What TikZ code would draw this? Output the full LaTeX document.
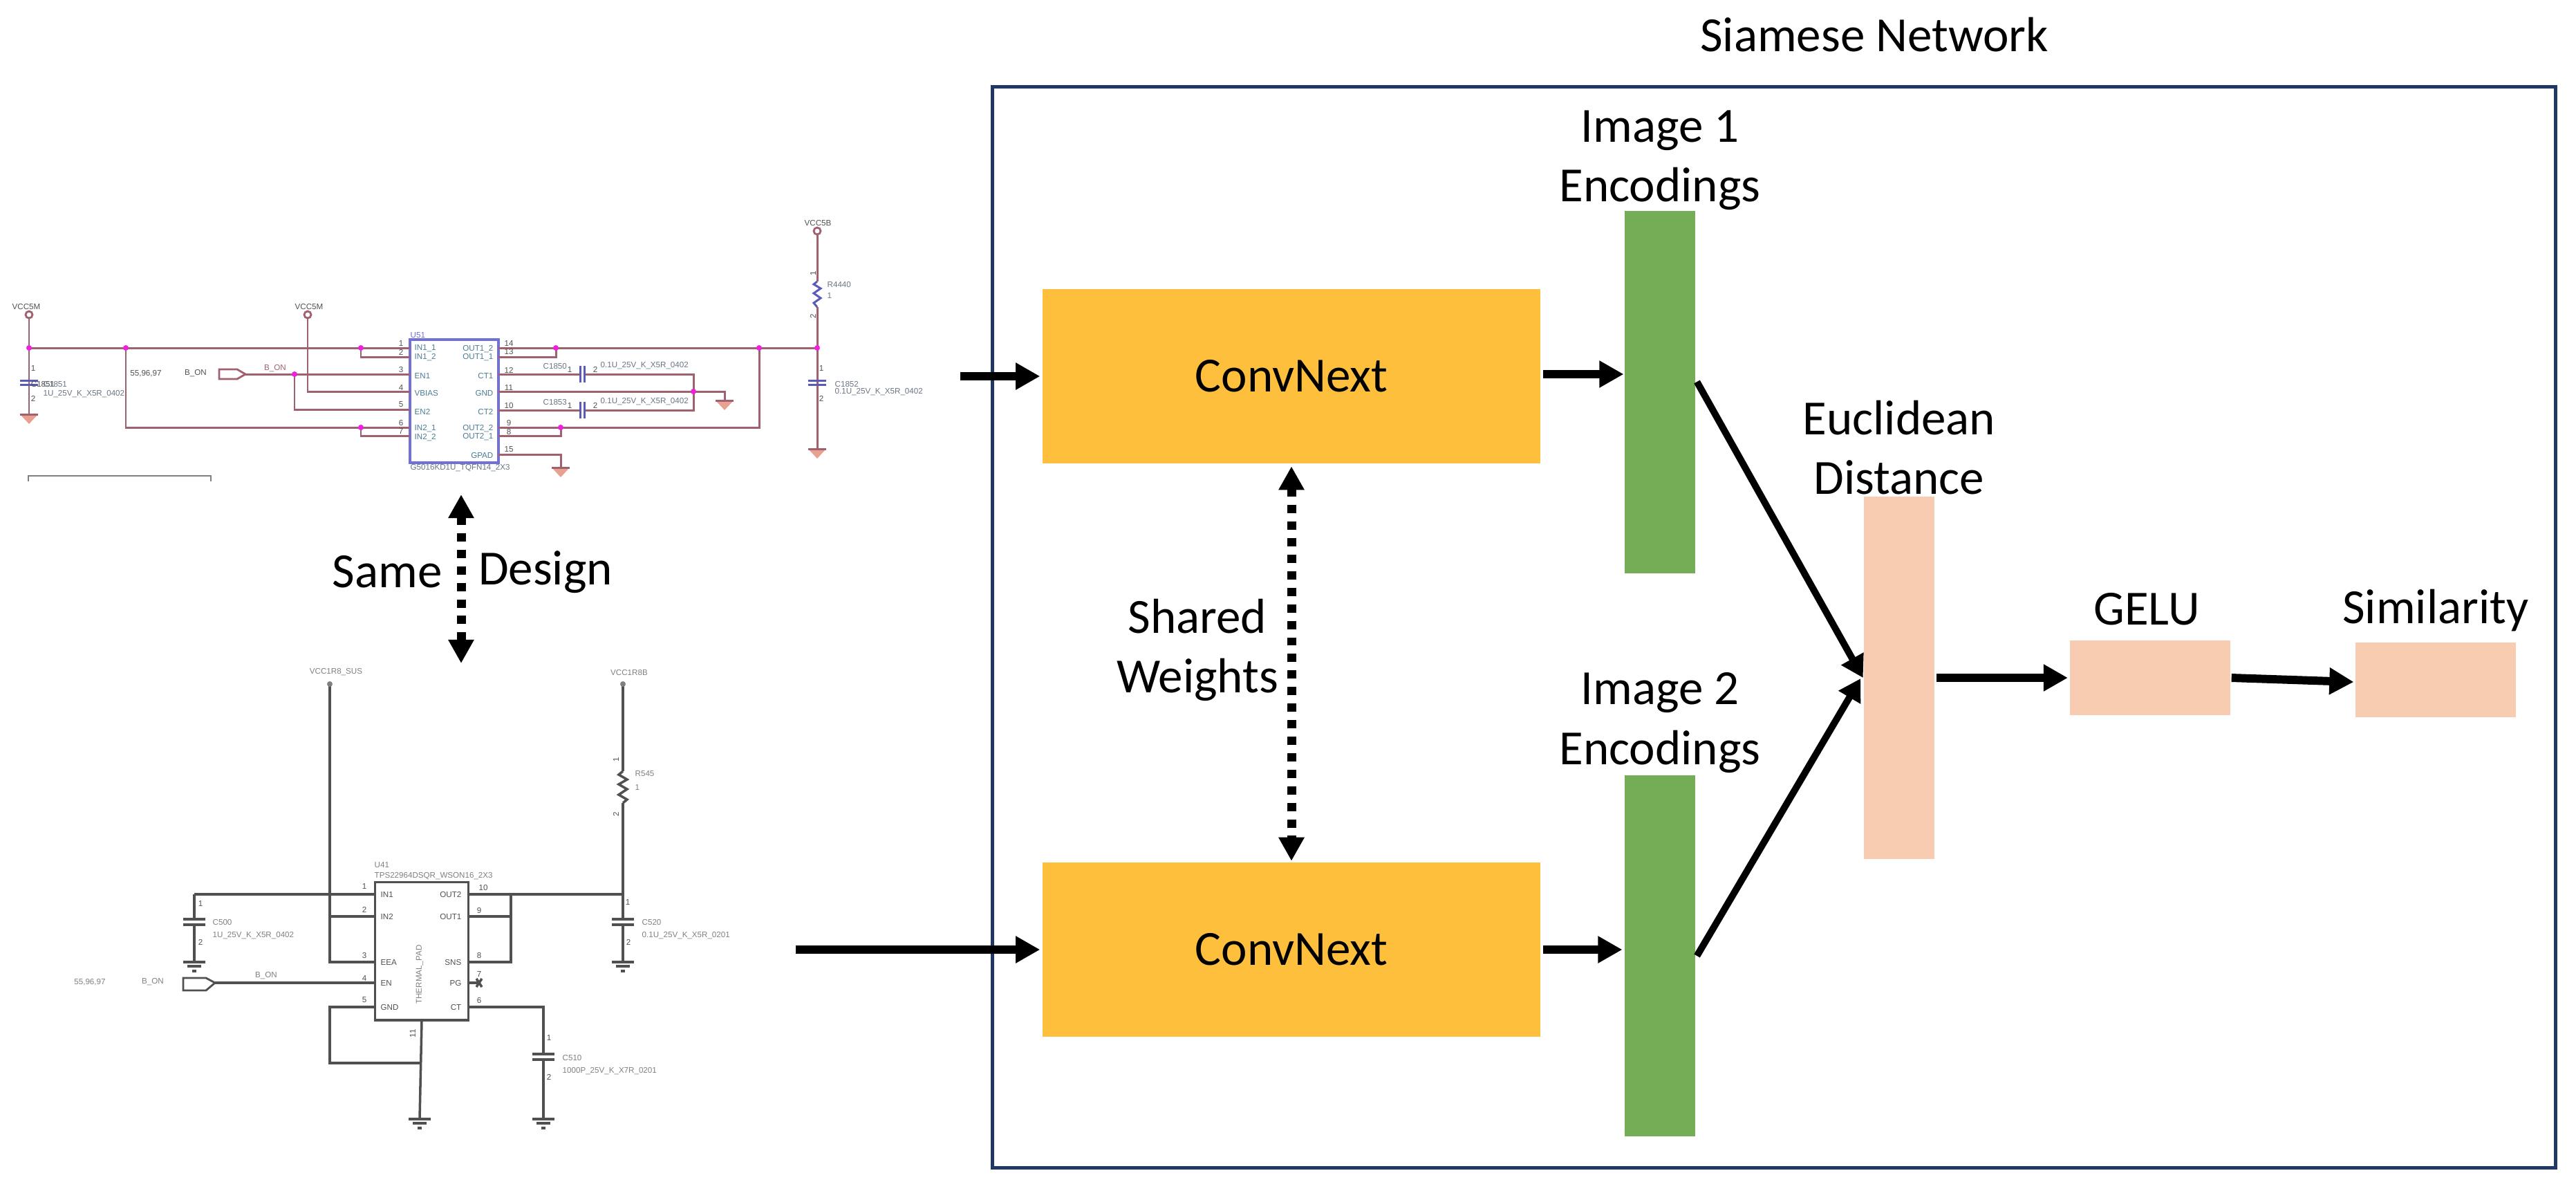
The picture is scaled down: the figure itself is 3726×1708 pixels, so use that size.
\documentclass[tikz,border=0pt]{standalone}
\usepackage{fontspec}
\setmainfont{Carlito}
\newfontfamily\schfont{Liberation Sans}
\usetikzlibrary{arrows.meta}
\definecolor{framenavy}{HTML}{1F3864}
\definecolor{convyellow}{HTML}{FDBF3C}
\definecolor{encgreen}{HTML}{74AD55}
\definecolor{distpeach}{HTML}{F7CCB1}
\definecolor{wirered}{HTML}{A0606E}
\definecolor{wiregray}{HTML}{505050}
\definecolor{dotpink}{HTML}{F020E0}
\definecolor{chipblue}{HTML}{7070D8}
\definecolor{capblue}{HTML}{5A5AB8}
\definecolor{gndsalmon}{HTML}{E8A090}
\definecolor{pinteal}{HTML}{4A7C94}
\definecolor{valgray}{HTML}{6A7484}
\tikzset{
  blocktext/.style={font=\fontsize{20.2}{24.5}\selectfont,align=center,inner sep=0pt},
  framebox/.style={draw=framenavy,line width=1.3pt,minimum width=22.6cm,minimum height=15.62cm,inner sep=0pt,outer sep=0pt},
  convbox/.style={blocktext,fill=convyellow,minimum width=7.2cm,minimum height=2.52cm,outer sep=0pt},
  encbox/.style={fill=encgreen,minimum width=1.01cm,inner sep=0pt,outer sep=0pt},
  peachbox/.style={fill=distpeach,inner sep=0pt,outer sep=0pt},
  flowarrow/.style={-{Triangle[length=10pt,width=10.5pt]},line width=3.4pt},
  slantarrow/.style={-{Triangle[length=9pt,width=10pt]},line width=2.8pt},
  dotarrow/.style={{Triangle[length=9.7pt,width=10pt]}-{Triangle[length=9.7pt,width=10pt]},line width=3.7pt,dash pattern=on 3.4pt off 3.4pt},
  schlabel/.style={font=\schfont\fontsize{3.3}{4}\selectfont,inner sep=0pt},
  redwire/.style={draw=wirered,line width=.85pt},
  graywire/.style={draw=wiregray,line width=1pt},
  gndred/.pic={\fill[gndsalmon] (-13,0) -- (13,0) -- (0,14) -- cycle; \draw[redwire] (-13,0) -- (13,0);},
  gndgray/.pic={\draw[graywire] (-16,0) -- (16,0) (-10,6) -- (10,6) (-3,13) -- (3,13);},
  capred/.pic={\draw[draw=capblue,line width=.85pt] (-13,-3) -- (13,-3) (-13,3) -- (13,3);},
  capside/.pic={\draw[draw=capblue,line width=.85pt] (-3,-12) -- (-3,12) (3,-12) -- (3,12);},
  capgray/.pic={\draw[graywire] (-16,-4) -- (16,-4) (-16,4) -- (16,4);}
}
\begin{document}
\begin{tikzpicture}[x=0.01cm,y=-0.01cm]
\useasboundingbox (0,0) rectangle (3726,1708);
% siamese network
\node[framebox] (siamese) at (2566,907) {};
\node[blocktext] (siamesetitle) at (2711,50) {Siamese Network};
\node[convbox] (conv1) at (1868,544) {ConvNext};
\node[convbox] (conv2) at (1868,1373) {ConvNext};
\node[encbox,minimum height=5.24cm] (enc1) at (2401,567) {};
\node[encbox,minimum height=5.22cm] (enc2) at (2401,1382) {};
\node[peachbox,minimum width=1.01cm,minimum height=5.24cm] (eucl) at (2747,980) {};
\node[peachbox,minimum width=2.31cm,minimum height=1.08cm] (gelu) at (3110,980) {};
\node[peachbox,minimum width=2.31cm,minimum height=1.08cm] (simil) at (3523,983) {};
\node[blocktext] (enc1txt) at (2401,232) {Image 1\\Encodings};
\node[blocktext] (enc2txt) at (2401,1045) {Image 2\\Encodings};
\node[blocktext] (eucltxt) at (2747,647) {Euclidean\\Distance};
\node[blocktext] (gelutxt) at (3105,881) {GELU};
\node[blocktext] (similtxt) at (3523,883) {Similarity};
\node[blocktext] (sharedtxt) at (1732,940) {Shared\\Weights};
\node[blocktext] (sametxt) at (560,827) {Same};
\node[blocktext] (designtxt) at (789,827) {Design};
\coordinate (input1) at (1389,544);
\coordinate (input2) at (1151,1373);
\coordinate (pairtop) at (667,715);
\coordinate (pairbot) at (667,959);
\draw[flowarrow] (input1) -- ([xshift=-1pt]conv1.west);
\draw[flowarrow] (input2) -- ([xshift=-1pt]conv2.west);
\draw[flowarrow] ([shift={(4,-3)}]conv1.east) -- ([shift={(-2,-26)}]enc1.west);
\draw[flowarrow] ([xshift=1pt]conv2.east) -- ([shift={(-4,-9)}]enc2.west);
\draw[slantarrow] ([shift={(3,-15)}]enc1.east) -- ([xshift=-.5pt]eucl.west);
\draw[slantarrow] ([shift={(3,0)}]enc2.east) -- ([shift={(-1.5pt,1)}]eucl.west);
\draw[flowarrow] ([xshift=1pt]eucl.east) -- ([xshift=-1pt]gelu.west);
\draw[flowarrow] ([xshift=.6pt]gelu.east) -- ([shift={(-3,3)}]simil.west);
\draw[dotarrow] ([yshift=-1.2pt]conv1.south) -- ([yshift=.6pt]conv2.north);
\draw[dotarrow] (pairtop) -- (pairbot);
% upper schematic
\node[draw=chipblue,line width=1pt,minimum width=1.28cm,minimum height=1.78cm,inner sep=0pt] (u51) at (657,580) {};
\draw[redwire] (42,455) -- (42,599);
\draw[redwire] (42,503) -- (593,503);
\draw[redwire] (182,503) -- (182,618) -- (593,618);
\draw[redwire] (522,503) -- (522,516) -- (593,516);
\draw[redwire] (522,618) -- (522,630) -- (593,630);
\draw[redwire] (355,541) -- (593,541);
\draw[redwire] (426,541) -- (426,592) -- (593,592);
\draw[redwire] (445,461) -- (445,566) -- (593,566);
\draw[redwire] (721,503) -- (1182,503);
\draw[redwire] (804,503) -- (804,516) -- (721,516);
\draw[redwire] (1098,503) -- (1098,618) -- (721,618);
\draw[redwire] (811,618) -- (811,630) -- (721,630);
\draw[redwire] (721,541) -- (839,541) (846,541) -- (1003,541) -- (1003,593) -- (846,593) (839,593) -- (721,593);
\draw[redwire] (721,566) -- (1048,566) -- (1048,579);
\draw[redwire] (721,657) -- (811,657) -- (811,676);
\draw[redwire] (1182,340) -- (1182,407) (1182,444) -- (1182,649);
\draw[capblue,line width=.85pt] (1182,407) -- (1177,411) -- (1187,417) -- (1177,424) -- (1187,431) -- (1177,438) -- (1182,444);
\draw[draw=wirered,line width=.8pt,fill=white] (317,534) -- (343,534) -- (355,541) -- (343,548) -- (317,548) -- cycle;
\draw[draw=gray,line width=.8pt] (41,696) -- (41,688) -- (305,688) -- (305,696);
\foreach \px/\py in {42/455,445/455,1182/334} \draw[draw=wirered,line width=.8pt,fill=white] (\px,\py) circle (5);
\foreach \px/\py in {42/503,182/503,522/503,522/618,426/541,804/503,811/618,1098/503,1182/503,1003/566} \fill[dotpink] (\px,\py) circle (4);
\foreach \px/\py in {42/599,1048/579,811/676,1182/649} \pic at (\px,\py) {gndred};
\foreach \px/\py in {42/553,1182/553} \pic at (\px,\py) {capred};
\foreach \px/\py in {842/541,842/593} \pic at (\px,\py) {capside};
\foreach \px/\py/\txt [count=\n] in {38/443/VCC5M,447/443/VCC5M,1183/322/VCC5B,283/540/B\_ON,211/540/{55,96,97},62/555/C1851}
  \node[schlabel,text=wiregray] (ua\n) at (\px,\py) {\txt};
\node[schlabel,text=wirered] (ubon) at (398,533) {B\_ON};
\foreach \py/\txt [count=\n] in {504/IN1\_1,517/IN1\_2,543/EN1,568/VBIAS,595/EN2,620/IN2\_1,633/IN2\_2}
  \node[schlabel,anchor=west,text=pinteal] (ul\n) at (599,\py) {\txt};
\foreach \py/\txt [count=\n] in {505/OUT1\_2,517/OUT1\_1,543/CT1,568/GND,595/CT2,620/OUT2\_2,632/OUT2\_1,658/GPAD}
  \node[schlabel,anchor=east,text=pinteal] (ur\n) at (714,\py) {\txt};
\foreach \py/\txt [count=\n] in {496/1,509/2,534/3,560/4,585/5,611/6,623/7}
  \node[schlabel,text=wiregray] (up\n) at (580,\py) {\txt};
\foreach \py/\txt [count=\n] in {496/14,508/13,535/12,560/11,586/10,611/9,624/8,650/15}
  \node[schlabel,text=wiregray] (uq\n) at (736,\py) {\txt};
\foreach \px/\py/\txt [count=\n] in {48/532/1,48/576/2,1188/532/1,1188/576/2,824/534/1,861/534/2,824/586/1,861/586/2}
  \node[schlabel,text=wiregray] (uc\n) at (\px,\py) {\txt};
\foreach \px/\py/\txt [count=\n] in {62/555/C1851,62/570/1U\_25V\_K\_X5R\_0402,1196/411/R4440,1196/427/1/10W\_0.001\_5\%\_0603\_50PPM/C,1207/555/C1852,1207/567/0.1U\_25V\_K\_X5R\_0402,868/529/0.1U\_25V\_K\_X5R\_0402,868/581/0.1U\_25V\_K\_X5R\_0402,785/529/C1850,785/581/C1853}
  \node[schlabel,anchor=west,text=valgray] (uv\n) at (\px,\py) {\txt};
\node[schlabel,anchor=west,text=chipblue] (utag) at (593,485) {U51};
\node[schlabel,anchor=west,text=valgray] (upart) at (593,677) {G5016KD1U\_TQFN14\_2X3};
\node[schlabel,rotate=90,text=wiregray] (ures1) at (1176,395) {1};
\node[schlabel,rotate=90,text=wiregray] (ures2) at (1176,457) {2};
% lower schematic
\node[draw=wiregray,line width=1.1pt,minimum width=1.35cm,minimum height=1.99cm,inner sep=0pt] (u41) at (610,1375) {};
\draw[graywire] (477,989) -- (477,1391) -- (543,1391);
\draw[graywire] (281,1293) -- (543,1293);
\draw[graywire] (477,1325) -- (543,1325);
\draw[graywire] (281,1293) -- (281,1391);
\draw[graywire] (311,1421) -- (543,1421);
\draw[graywire] (543,1456) -- (477,1456) -- (477,1537) -- (607,1537);
\draw[graywire] (u41.south) -- (607,1618);
\draw[graywire] (678,1293) -- (901,1293);
\draw[graywire] (678,1325) -- (739,1325);
\draw[graywire] (739,1293) -- (739,1391) -- (678,1391);
\draw[graywire] (678,1421) -- (693,1421);
\draw[graywire] (689,1415) -- (697,1427) (697,1415) -- (689,1427);
\draw[graywire] (678,1456) -- (786,1456) -- (786,1618);
\draw[graywire] (901,989) -- (901,1115) (901,1161) -- (901,1391);
\draw[graywire] (901,1115) -- (895,1120) -- (907,1127) -- (895,1134) -- (907,1141) -- (895,1149) -- (907,1156) -- (901,1161);
\draw[draw=wiregray,line width=.8pt,fill=white] (265,1414) -- (298,1414) -- (311,1421) -- (298,1432) -- (265,1432) -- cycle;
\foreach \px/\py in {477/989,901/989} \fill[gray] (\px,\py) circle (4);
\foreach \px/\py in {281/1391,607/1618,786/1618,901/1391} \pic at (\px,\py) {gndgray};
\foreach \px/\py in {281/1333,786/1528,901/1333} {\fill[white] (\px-16,\py-3) rectangle (\px+16,\py+3); \pic at (\px,\py) {capgray};}
\foreach \px/\py/\txt [count=\n] in {486/972/VCC1R8\_SUS,910/972/VCC1R8B,130/1420/{55,96,97},221/1420/B\_ON,385/1411/B\_ON}
  \node[schlabel,text=gray] (la\n) at (\px,\py) {\txt};
\foreach \py/\txt [count=\n] in {1293/IN1,1325/IN2,1391/EEA/S,1421/EN,1456/GND}
  \node[schlabel,anchor=west,text=wiregray] (ll\n) at (550,\py) {\txt};
\foreach \py/\txt [count=\n] in {1293/OUT2,1325/OUT1,1391/SNS,1421/PG,1456/CT}
  \node[schlabel,anchor=east,text=wiregray] (lr\n) at (668,\py) {\txt};
\foreach \px/\py/\txt [count=\n] in {527/1281/1,527/1315/2,527/1381/3,527/1414/4,527/1446/5,699/1283/10,693/1316/9,693/1381/8,693/1408/7,693/1446/6,290/1306/1,290/1362/2,908/1304/1,909/1362/2,794/1500/1,794/1557/2}
  \node[schlabel,text=wiregray] (lp\n) at (\px,\py) {\txt};
\foreach \px/\py/\txt [count=\n] in {307/1333/C500,307/1353/1U\_25V\_K\_X5R\_0402,918/1119/R545,918/1138/1/16W\_0.201\_5\%\_0603\_50PPM/C,928/1333/C520,928/1353/0.1U\_25V\_K\_X5R\_0201,813/1529/C510,813/1549/1000P\_25V\_K\_X7R\_0201,541/1251/U41,541/1267/TPS22964DSQR\_WSON16\_2X3}
  \node[schlabel,anchor=west,text=gray] (lv\n) at (\px,\py) {\txt};
\node[schlabel,rotate=90,text=gray] (lpad) at (607,1409) {THERMAL\_PAD};
\node[schlabel,rotate=90,text=wiregray] (lres1) at (891,1098) {1};
\node[schlabel,rotate=90,text=wiregray] (lres2) at (891,1177) {2};
\node[schlabel,rotate=90,text=wiregray] (lthrm) at (597,1494) {11};
\end{tikzpicture}
\end{document}
